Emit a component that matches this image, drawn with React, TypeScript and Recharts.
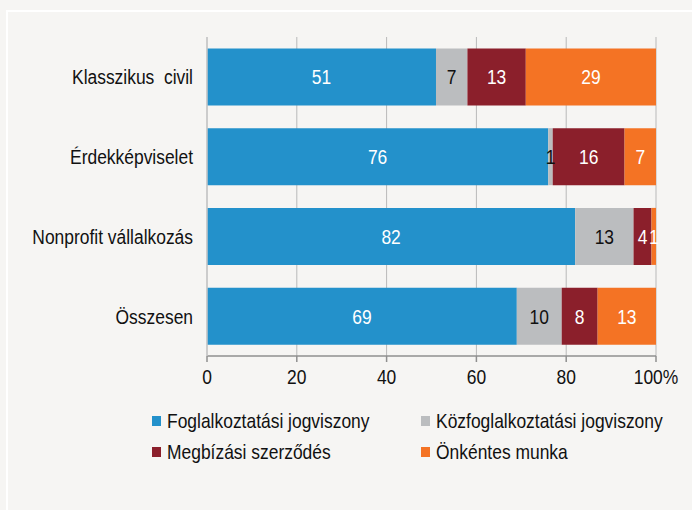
import React from "react";
import { BarChart, Bar, XAxis, YAxis, CartesianGrid, LabelList } from "recharts";

const categories = ["Klasszikus\u00a0 civil", "Érdekképviselet", "Nonprofit vállalkozás", "Összesen"];
const foglalkoztatasi = [51, 76, 82, 69];
const kozfoglalkoztatasi = [7, 1, 13, 10];
const megbizasi = [13, 16, 4, 8];
const onkentes = [29, 7, 1, 13];
const xTicks = [0, 20, 40, 60, 80, 100];

const series = [
  { key: "fog", name: "Foglalkoztatási jogviszony", color: "#2391cb", label: "#ffffff" },
  { key: "koz", name: "Közfoglalkoztatási jogviszony", color: "#bbbdbf", label: "#111111" },
  { key: "meg", name: "Megbízási szerződés", color: "#8b1f2b", label: "#ffffff" },
  { key: "onk", name: "Önkéntes munka", color: "#f47324", label: "#ffffff" },
];

const data = categories.map((name, i) => ({
  name,
  fog: foglalkoztatasi[i],
  koz: kozfoglalkoztatasi[i],
  meg: megbizasi[i],
  onk: onkentes[i],
}));

const FONT = "'Liberation Sans', Arial, sans-serif";
const FS = 21;
const SX = 0.83;

const NarrowText = ({ x, y, anchor, dy, fill, children }: any) => (
  <g transform={`translate(${x},${y})`}>
    <text
      transform={`scale(${SX},1)`}
      textAnchor={anchor}
      dy={dy}
      fill={fill}
      fontSize={FS}
      fontFamily={FONT}
    >
      {children}
    </text>
  </g>
);

const YTick = (props: any) => (
  <NarrowText x={props.x} y={props.y} anchor="end" dy="0.355em" fill="#111">
    {props.payload.value}
  </NarrowText>
);

const XTick = (props: any) => (
  <NarrowText x={props.x} y={props.y} anchor="middle" dy="0.71em" fill="#111">
    {props.payload.value === 100 ? "100%" : String(props.payload.value)}
  </NarrowText>
);

const makeLabel = (fill: string) => (props: any) => {
  const { x, y, width, height, value } = props;
  return (
    <NarrowText x={Number(x) + Number(width) / 2} y={Number(y) + Number(height) / 2} anchor="middle" dy="0.355em" fill={fill}>
      {value}
    </NarrowText>
  );
};

const LegendBlock = () => (
  <div style={{ position: "absolute", left: 0, top: 408, width: 692, height: 70, fontFamily: FONT, fontSize: FS, color: "#111" }}>
    {series.map((s, i) => {
      const col = i % 2;
      const row = Math.floor(i / 2);
      return (
        <div
          key={s.key}
          style={{
            position: "absolute",
            left: col === 0 ? 152 : 421,
            top: row * 31,
            display: "flex",
            alignItems: "center",
            whiteSpace: "nowrap",
            lineHeight: "26px",
          }}
        >
          <span style={{ display: "inline-block", width: 9, height: 10, background: s.color, marginRight: 6 }} />
          <span style={{ display: "inline-block", transform: `scale(${SX},1)`, transformOrigin: "left center" }}>{s.name}</span>
        </div>
      );
    })}
  </div>
);

export default function App() {
  return (
    <div style={{ position: "absolute", left: 0, top: 0, width: 692, height: 510, overflow: "hidden", background: "#f6f5f3" }}>
      <div style={{ position: "absolute", left: 6, top: 10, width: 720, height: 540, border: "2px solid #ffffff", boxSizing: "border-box" }} />
      <div style={{ position: "absolute", left: 0, top: 0 }}>
        <BarChart
          width={692}
          height={510}
          data={data}
          layout="vertical"
          margin={{ top: 37, right: 36, left: 0, bottom: 114 }}
          barCategoryGap="14.3%"
          style={{ fontFamily: FONT }}
        >
          <CartesianGrid horizontal={false} vertical={true} stroke="#b9b9b9" strokeWidth={1} />
          <XAxis
            type="number"
            domain={[0, 100]}
            ticks={xTicks}
            axisLine={{ stroke: "#8f8f8f", strokeWidth: 1.5 }}
            tickLine={{ stroke: "#8f8f8f", strokeWidth: 1.5 }}
            tickSize={6}
            tickMargin={7}
            height={40}
            tick={<XTick />}
            interval={0}
          />
          <YAxis
            type="category"
            dataKey="name"
            width={207}
            tickLine={false}
            axisLine={{ stroke: "#c8c8c8", strokeWidth: 1.5 }}
            tickSize={0}
            tickMargin={14}
            tick={<YTick />}
            interval={0}
          />
          {series.map((s) => (
            <Bar key={s.key} dataKey={s.key} name={s.name} stackId="a" fill={s.color} isAnimationActive={false}>
              <LabelList dataKey={s.key} content={makeLabel(s.label)} />
            </Bar>
          ))}
        </BarChart>
      </div>
      <LegendBlock />
    </div>
  );
}
